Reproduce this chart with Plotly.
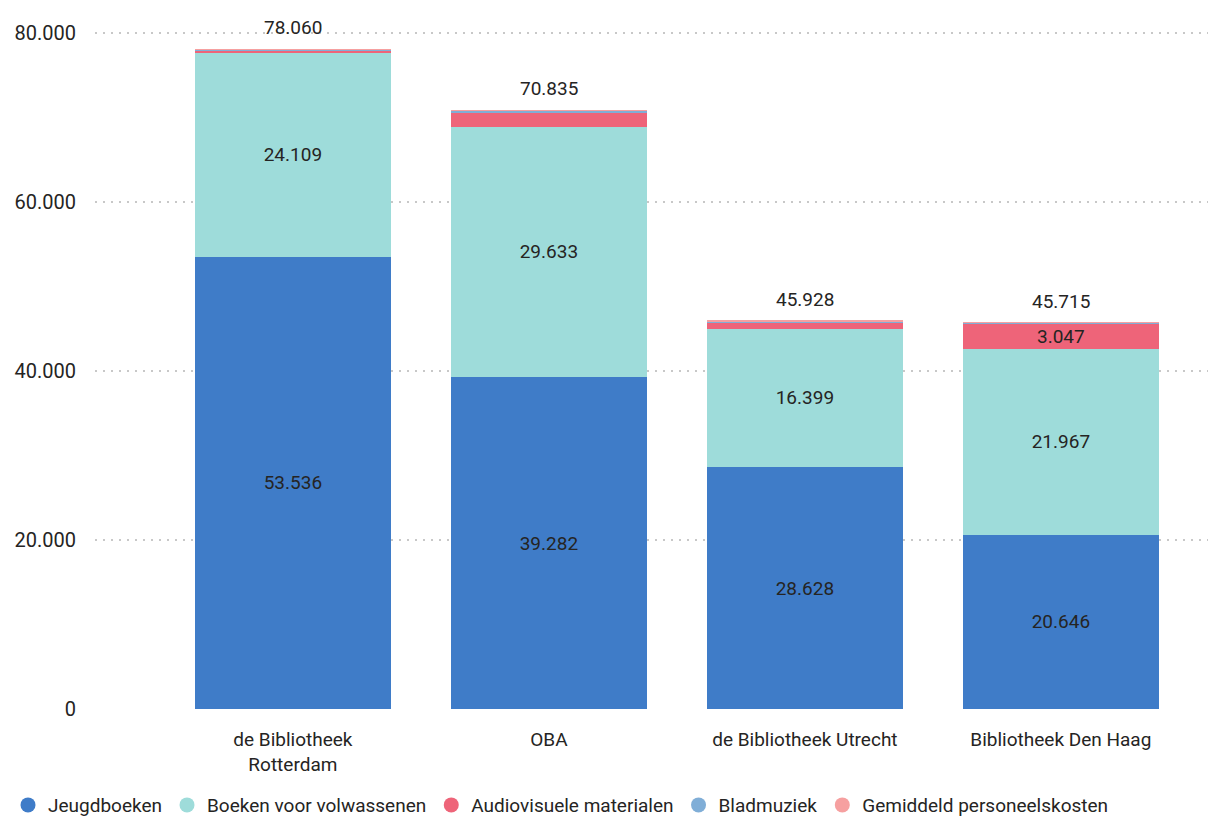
import plotly.graph_objects as go

categories = ["de Bibliotheek Rotterdam", "OBA", "de Bibliotheek Utrecht", "Bibliotheek Den Haag"]
tick_labels = ["de Bibliotheek<br>Rotterdam", "OBA", "de Bibliotheek Utrecht", "Bibliotheek Den Haag"]

jeugdboeken = [53536, 39282, 28628, 20646]
volwassenen = [24109, 29633, 16399, 21967]
audiovisueel = [250, 1720, 720, 3047]
bladmuziek = [120, 150, 150, 40]
personeel = [45, 50, 31, 15]
totals = [78060, 70835, 45928, 45715]

series = [
    ("Jeugdboeken", jeugdboeken, "#3F7CC8"),
    ("Boeken voor volwassenen", volwassenen, "#9EDCDA"),
    ("Audiovisuele materialen", audiovisueel, "#EE6479"),
    ("Bladmuziek", bladmuziek, "#80AED7"),
    ("Gemiddeld personeelskosten", personeel, "#F6A0A0"),
]

FONT = "Roboto, sans-serif"
TXT = "#252423"


def fmt(v):
    return f"{v:,}".replace(",", ".")


fig = go.Figure()
for name, vals, color in series:
    labels = [fmt(v) if v >= 2500 else "" for v in vals]
    fig.add_trace(go.Bar(
        x=categories, y=vals, name=name, marker_color=color,
        marker_line_width=0,
        text=labels, textposition="inside", insidetextanchor="middle",
        constraintext="none", textangle=0,
        textfont=dict(color=TXT, size=19, family=FONT),
        showlegend=False, hoverinfo="skip",
    ))
    fig.add_trace(go.Scatter(
        x=[None], y=[None], mode="markers", name=name,
        marker=dict(symbol="circle", size=15, color=color),
        showlegend=True,
    ))

for cat, tot in zip(categories, totals):
    fig.add_annotation(
        x=cat, y=tot, text=fmt(tot), showarrow=False,
        yanchor="bottom", yshift=8, font=dict(color=TXT, size=19, family=FONT),
    )

fig.update_layout(
    barmode="stack",
    bargap=0.234,
    width=1208, height=809,
    margin=dict(l=87, r=0, t=7, b=108, autoexpand=False),
    plot_bgcolor="white", paper_bgcolor="white",
    separators=",.",
    font=dict(family=FONT, color=TXT, size=19),
    xaxis=dict(
        range=[-0.773, 3.606], tickmode="array", tickvals=categories, ticktext=tick_labels,
        showgrid=False, showline=False, zeroline=False, ticks="",
        ticklabelstandoff=17,
        tickfont=dict(size=19, color=TXT, family=FONT),
    ),
    yaxis=dict(
        range=[0, 82130], tickvals=[0, 20000, 40000, 60000, 80000], tickformat=",d",
        showgrid=True, gridcolor="#C8C8C8", griddash="2px,6px", gridwidth=1.5,
        zeroline=False, showline=False, ticks="", ticklabelstandoff=18,
        tickfont=dict(size=20, color=TXT, family=FONT),
    ),
    legend=dict(
        orientation="h", xref="container", yref="container",
        x=0.0, xanchor="left", y=0.0148, yanchor="middle",
        font=dict(size=19, color=TXT, family=FONT),
        itemwidth=30, traceorder="normal", tracegroupgap=0,
    ),
)

fig.write_html("out.html")
